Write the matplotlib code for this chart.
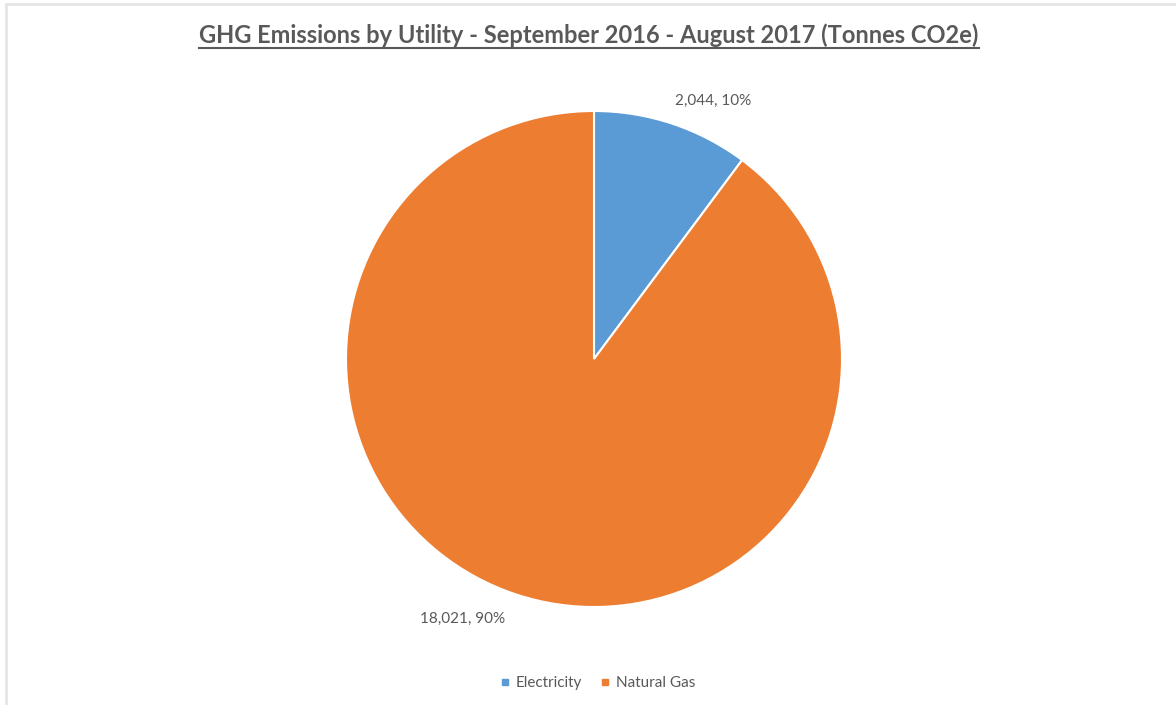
import matplotlib
matplotlib.use("Agg")
import matplotlib.pyplot as plt
from matplotlib.lines import Line2D

categories = ["Electricity", "Natural Gas"]
values = [2044, 18021]
colors = ["#5B9BD5", "#ED7D31"]
title = "GHG Emissions by Utility - September 2016 - August 2017 (Tonnes CO2e)"

plt.rcParams['font.family'] = ['Lato', 'DejaVu Sans']
W, H = 1176, 705
fig = plt.figure(figsize=(W / 100, H / 100), dpi=100)
fig.patch.set_facecolor("white")

# Light frame on the left and top
fig.add_artist(Line2D([6 / W, 6 / W], [0, 1 - 4 / H], color="#e6e6e6", lw=2, transform=fig.transFigure))
fig.add_artist(Line2D([6 / W, 1], [1 - 4 / H, 1 - 4 / H], color="#e6e6e6", lw=2, transform=fig.transFigure))

cx, cy, r = 594, 359, 248
ax = fig.add_axes([(cx - r) / W, 1 - (cy + r) / H, 2 * r / W, 2 * r / H])
wedges, _ = ax.pie(values, colors=colors, startangle=90, counterclock=False,
                   wedgeprops=dict(edgecolor="white", linewidth=1.5), radius=1)
ax.set_xlim(-1, 1)
ax.set_ylim(-1, 1)
ax.set_aspect("equal")
ax.axis("off")

total = sum(values)
label_pos = [(0.48, 1.04), (-0.528, -1.048)]
for v, pos in zip(values, label_pos):
    ax.text(pos[0], pos[1], f"{v:,}, {v / total:.0%}", ha="center", va="center",
            fontsize=11, color="#595959")

t = fig.text(589 / W, 1 - 35 / H, title, ha="center", va="center",
             fontsize=17, fontweight="bold", color="#595959")
fig.canvas.draw()
bb = t.get_window_extent(renderer=fig.canvas.get_renderer())
uy = bb.y0 - 1
fig.add_artist(Line2D([bb.x0 / W, bb.x1 / W], [uy / H, uy / H], color="#595959", lw=1.5,
                      transform=fig.transFigure))

handles = [Line2D([], [], marker="s", linestyle="none", markersize=5, color=c) for c in colors]
fig.legend(handles, categories, loc="center", bbox_to_anchor=(598 / W, 1 - 683 / H),
           ncol=2, frameon=False, fontsize=11, handlelength=0.6, handletextpad=0.4,
           columnspacing=1.2, labelcolor="#595959")

fig.savefig("out.png", dpi=100, facecolor="white")
